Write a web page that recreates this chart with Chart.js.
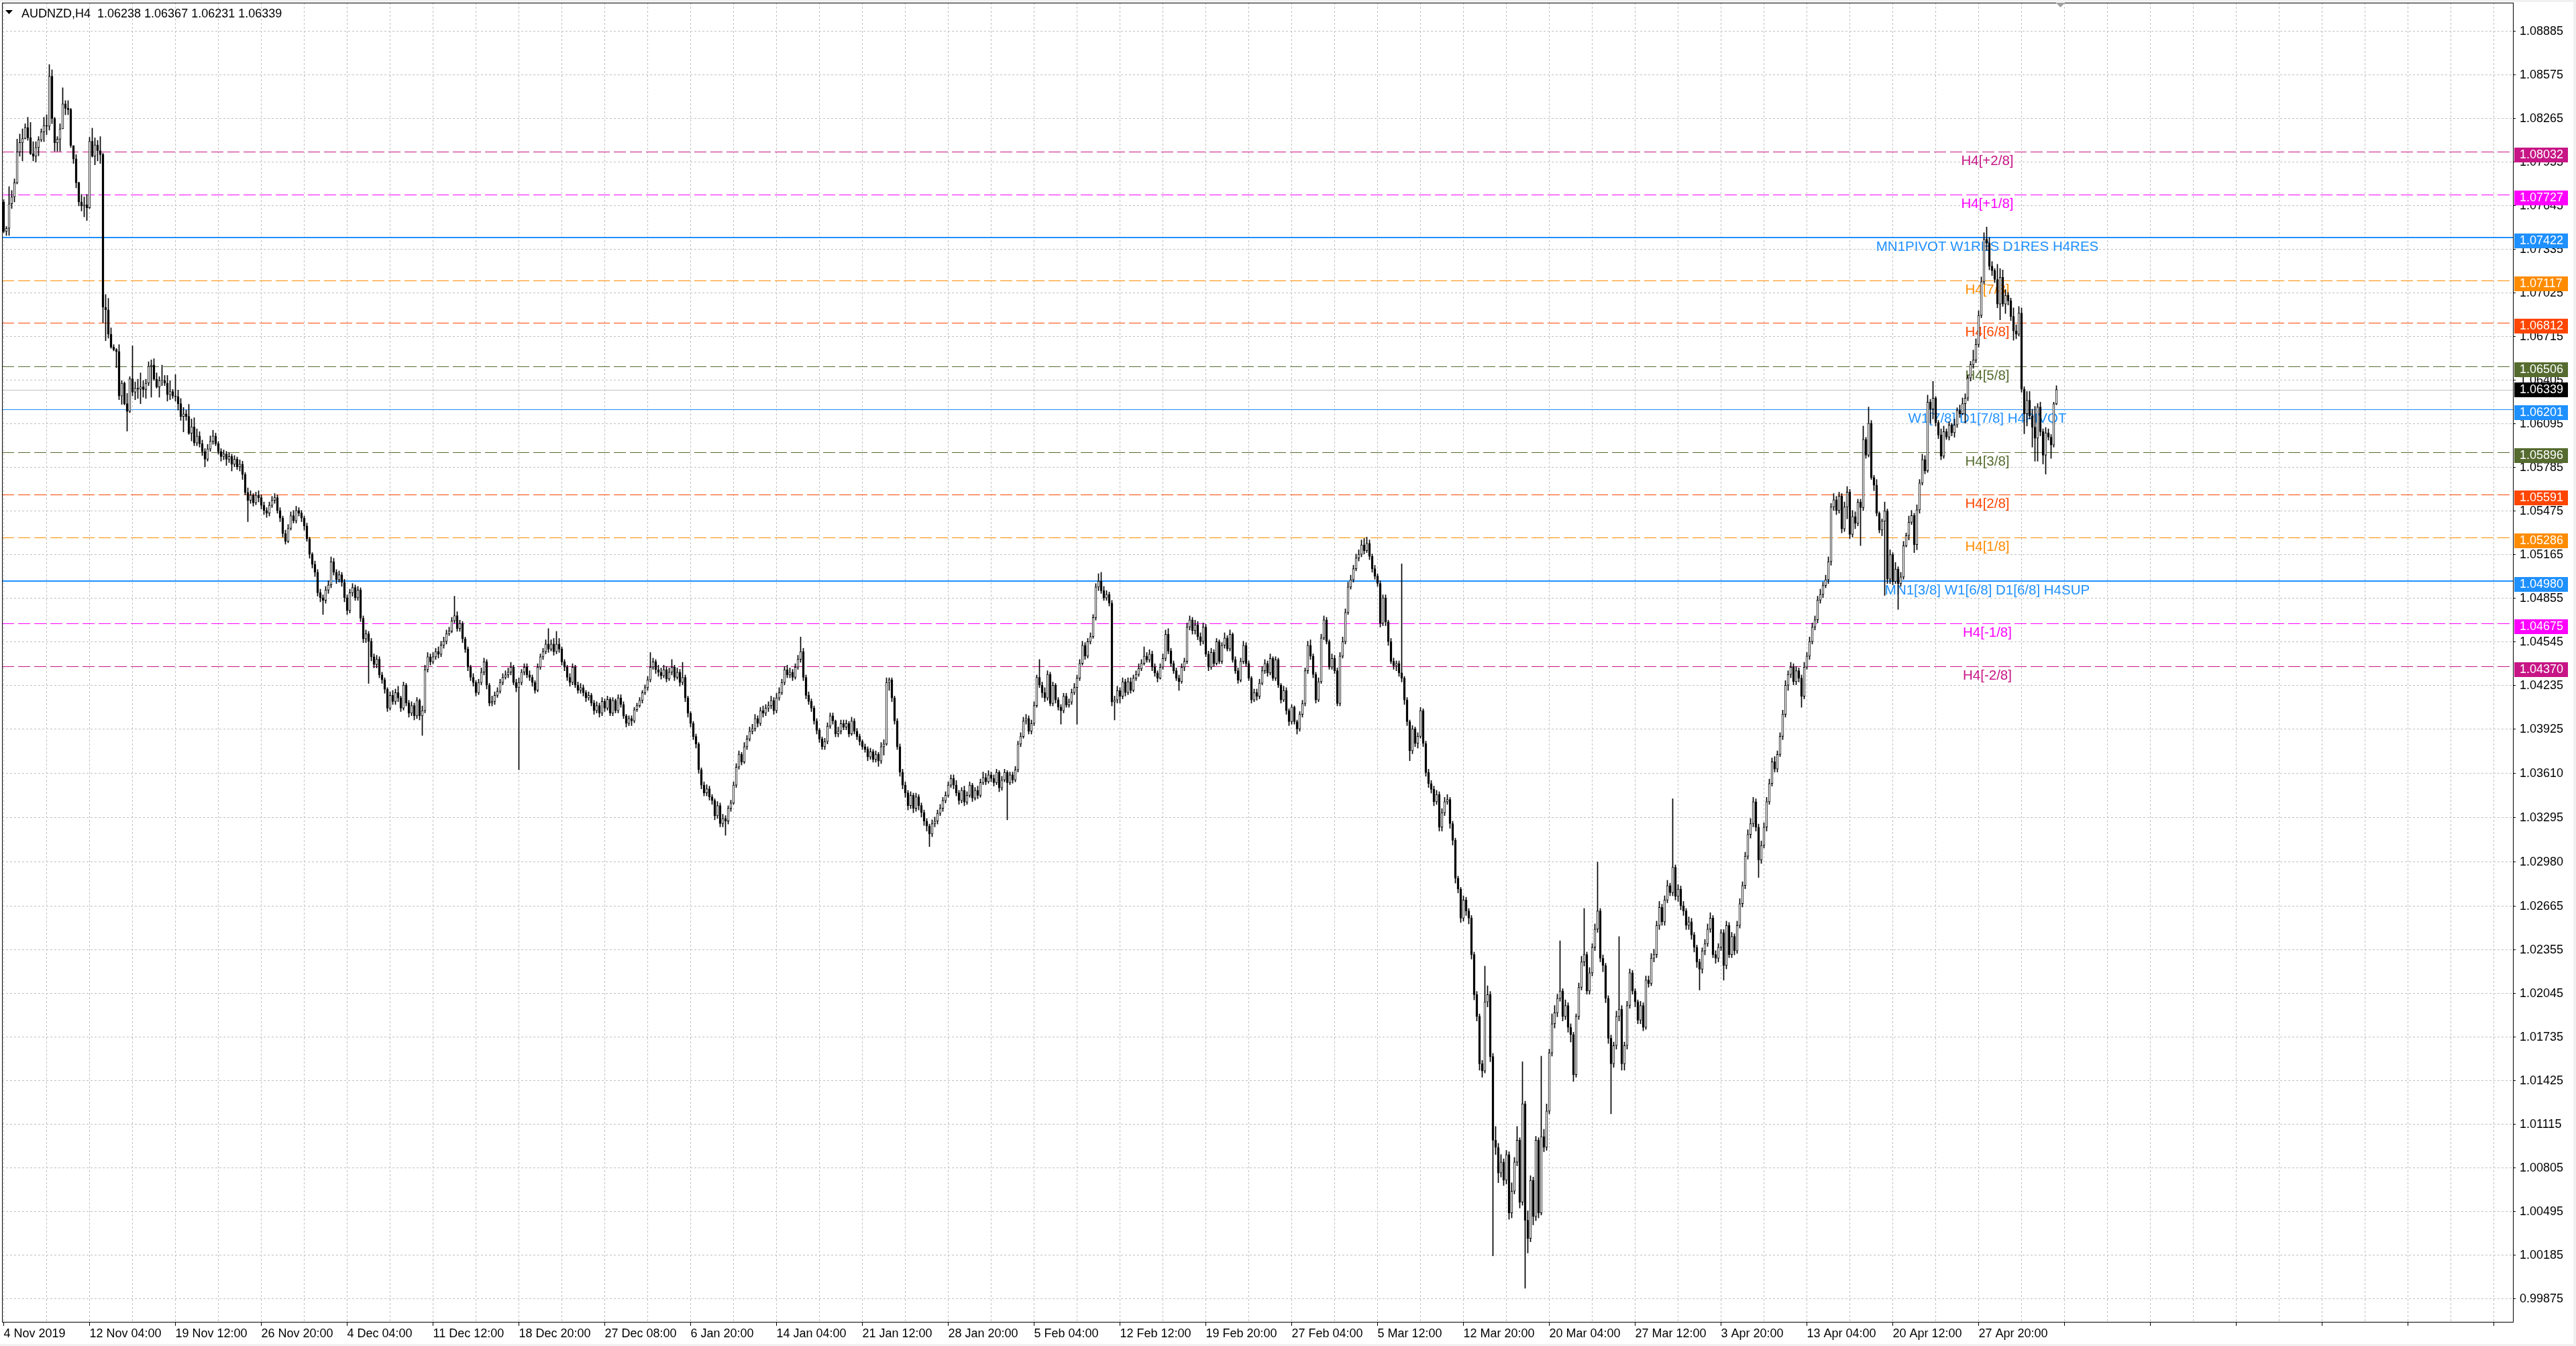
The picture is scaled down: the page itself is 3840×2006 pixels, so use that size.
<!DOCTYPE html>
<html>
<head>
<meta charset="utf-8">
<script src="https://cdn.jsdelivr.net/npm/chart.js@4.4.1/dist/chart.umd.min.js"></script>
<style>
  html, body { margin: 0; padding: 0; background: #f0f0f0; }
  canvas { display: block; }
</style>
</head>
<body>
<canvas id="chart" width="3840" height="2006"></canvas>
<script>
// AUDNZD H4 - prices stored as points above 1.00000 (7463 = 1.07463)
const symbolName = "AUDNZD,H4";

const timeLabels = ["4 Nov 2019", "12 Nov 04:00", "19 Nov 12:00", "26 Nov 20:00", "4 Dec 04:00",
  "11 Dec 12:00", "18 Dec 20:00", "27 Dec 08:00", "6 Jan 20:00", "14 Jan 04:00", "21 Jan 12:00",
  "28 Jan 20:00", "5 Feb 04:00", "12 Feb 12:00", "19 Feb 20:00", "27 Feb 04:00", "5 Mar 12:00",
  "12 Mar 20:00", "20 Mar 04:00", "27 Mar 12:00", "3 Apr 20:00", "13 Apr 04:00", "20 Apr 12:00",
  "27 Apr 20:00"];

const priceTicks = [1.08885, 1.08575, 1.08265, 1.07955, 1.07645, 1.07335, 1.07025, 1.06715, 1.06405,
  1.06095, 1.05785, 1.05475, 1.05165, 1.04855, 1.04545, 1.04235, 1.03925, 1.03610, 1.03295, 1.02980,
  1.02665, 1.02355, 1.02045, 1.01735, 1.01425, 1.01115, 1.00805, 1.00495, 1.00185, 0.99875];

const firstOpen = 7673;

const closes = [
  7463,7486,7660,7709,7810,8029,8096,8124,8202,8129, 8016,7998,8060,8115,8171,8217,8211,8567,8266,8093,
  8120,8193,8370,8339,8330,8074,7979,7810,7673,7645, 7654,7632,8105,7998,8078,8038,8010,6924,6906,6732,
  6641,6623,6610,6294,6385,6239,6184,6416,6321,6349, 6343,6358,6340,6385,6504,6513,6413,6358,6404,6404,
  6385,6303,6325,6294,6289,6239,6148,6166,6148,6029, 6075,5960,6009,5954,5899,5844,5917,5972,6009,5954,
  5899,5863,5881,5844,5863,5808,5844,5790,5808,5735, 5607,5552,5589,5534,5589,5571,5516,5479,5461,5516,
  5552,5571,5479,5425,5315,5260,5352,5443,5406,5479, 5461,5425,5370,5279,5169,5096,5041,4895,4859,4841,
  4914,4950,5114,5041,4987,5023,4968,4859,4768,4895, 4932,4859,4914,4713,4567,4603,4549,4439,4384,4421,
  4311,4275,4209,4074,4165,4122,4184,4147,4074,4238, 4111,4038,4092,4019,4129,4019,4056,4348,4439,4403,
  4439,4476,4457,4523,4549,4603,4622,4695,4731,4640, 4676,4567,4494,4366,4293,4257,4184,4257,4330,4403,
  4238,4111,4122,4165,4195,4257,4293,4311,4330,4366, 4257,4220,4257,4330,4366,4311,4293,4257,4202,4366,
  4439,4476,4530,4494,4530,4476,4530,4494,4403,4366, 4293,4257,4366,4238,4202,4220,4184,4147,4165,4111,
  4056,4092,4038,4122,4074,4136,4038,4129,4056,4147, 4100,4019,3965,4001,3983,4063,4092,4129,4184,4220,
  4275,4366,4403,4348,4330,4304,4348,4282,4330,4366, 4293,4330,4257,4293,4147,4038,3965,3873,3819,3636,
  3527,3472,3501,3443,3417,3308,3381,3253,3290,3271, 3362,3399,3527,3655,3746,3691,3800,3855,3910,3928,
  4001,3965,4056,4038,4074,4092,4129,4056,4147,4184, 4257,4348,4311,4330,4293,4366,4421,4476,4293,4165,
  4122,4074,3983,3917,3855,3800,3837,3946,4019,3983, 3892,3910,3965,3939,3965,3892,3983,3910,3873,3837,
  3800,3782,3727,3764,3709,3746,3698,3800,3819,4257, 4275,4147,3983,3800,3618,3527,3472,3381,3454,3362,
  3443,3381,3333,3271,3235,3180,3253,3271,3326,3362, 3417,3454,3527,3574,3527,3472,3417,3490,3406,3454,
  3527,3435,3490,3454,3545,3581,3552,3600,3574,3545, 3618,3508,3563,3618,3545,3600,3563,3636,3819,3873,
  3983,4001,3910,3965,4092,4293,4238,4184,4147,4314, 4107,4237,4133,4081,4056,4159,4097,4118,4185,4221,
  4288,4392,4521,4444,4547,4583,4718,4935,4977,4909, 4858,4883,4821,4118,4133,4200,4159,4262,4185,4262,
  4200,4288,4314,4356,4392,4444,4418,4459,4366,4325, 4288,4366,4428,4599,4480,4392,4340,4288,4262,4366,
  4407,4651,4702,4625,4666,4583,4547,4651,4459,4366, 4470,4392,4547,4407,4521,4573,4495,4599,4418,4340,
  4273,4407,4521,4392,4288,4133,4185,4159,4252,4340, 4392,4325,4428,4288,4418,4237,4133,4200,4056,3978,
  4081,3978,3926,4030,4107,4340,4521,4444,4314,4133, 4262,4573,4702,4547,4366,4428,4340,4107,4444,4547,
  4754,4935,4987,5065,5142,5168,5235,5194,5246,5153, 5065,5013,4961,4677,4858,4687,4547,4407,4376,4392,
  4325,4288,4133,3978,3771,3926,3823,3874,4056,3823, 3616,3538,3497,3409,3460,3228,3331,3409,3424,3253,
  3134,2865,2788,2581,2710,2632,2581,2322,2037,1882, 1546,1494,1986,2037,1597,1002,951,769,847,718,
  899,485,640,847,1002,562,1261,433,304,717, 459,1002,485,1028,951,1209,1623,1830,1908,2011,
  2063,1882,1960,1804,1753,1468,1882,2089,2270,2322, 2063,2192,2374,2503,2632,2296,2244,2011,1727,1546,
  1675,1882,1934,1546,1675,1960,2192,2063,1986,1856, 1960,1804,2141,2115,2296,2322,2529,2658,2555,2710,
  2813,2762,2943,2736,2788,2669,2632,2529,2555,2462, 2374,2270,2218,2348,2399,2503,2581,2322,2296,2374,
  2477,2244,2529,2322,2451,2348,2529,2684,2813,3021, 3176,3253,3409,3228,2995,3098,3228,3409,3538,3693,
  3641,3745,3874,4030,4237,4314,4366,4262,4340,4288, 4159,4366,4444,4547,4651,4702,4842,4883,4946,4987,
  5116,5505,5556,5479,5582,5349,5505,5611,5309,5436, 5388,5539,5500,5985,5873,6100,5714,5659,5460,5341,
  5404,5476,4991,5166,4975,5063,4959,5007,5229,5301, 5396,5444,5237,5484,5675,5842,5762,6250,6200,6279,
  6104,6016,5865,6040,6001,6088,6032,6088,6191,6167, 6239,6279,6422,6517,6549,6660,6867,7106,7408,7380,
  7217,7185,7122,6947,7137,6947,7010,6970,6859,6756, 6732,6883,6342,6167,6263,6152,6072,5993,6215,6040,
  5873,6032,6001,5945,6238,6339
];

const highs = [
  7690,7499,7782,7755,7837,8120,8156,8193,8229,8275, 8239,8102,8102,8138,8193,8275,8293,8650,8613,8275,
  8138,8229,8485,8394,8394,8339,8074,8010,7815,7727, 7709,7727,8133,8198,8129,8111,8138,8020,7015,6988,
  6778,6659,6632,6659,6403,6394,6312,6431,6650,6394, 6413,6458,6403,6413,6537,6550,6559,6458,6431,6513,
  6440,6440,6403,6340,6446,6336,6276,6212,6193,6234, 6130,6139,6060,6040,5980,5920,5950,6010,6050,6030,
  5970,5920,5910,5900,5890,5880,5870,5860,5840,5830, 5750,5640,5620,5600,5610,5620,5590,5540,5500,5540,
  5580,5600,5590,5500,5440,5340,5380,5470,5480,5510, 5500,5480,5440,5390,5290,5180,5120,5060,4920,4880,
  4940,4980,5150,5140,5060,5050,5040,4990,4880,4920, 4960,4950,4940,4930,4730,4630,4620,4570,4460,4450,
  4440,4330,4290,4220,4190,4200,4210,4230,4160,4260, 4250,4130,4120,4110,4150,4140,4090,4380,4470,4460,
  4470,4500,4510,4550,4580,4630,4650,4720,4870,4760, 4700,4690,4580,4510,4380,4320,4270,4280,4360,4430,
  4420,4250,4160,4190,4220,4280,4320,4340,4360,4400, 4380,4280,4290,4350,4390,4390,4340,4310,4270,4390,
  4460,4500,4560,4640,4560,4570,4620,4570,4510,4420, 4380,4320,4390,4380,4260,4250,4240,4200,4190,4180,
  4130,4120,4110,4150,4140,4160,4150,4150,4140,4170, 4170,4120,4030,4020,4020,4080,4110,4150,4200,4240,
  4300,4470,4430,4420,4380,4360,4380,4370,4360,4420, 4380,4360,4350,4400,4310,4160,4050,3980,3890,3830,
  3650,3550,3530,3520,3460,3430,3410,3400,3320,3310, 3380,3420,3550,3680,3770,3760,3830,3880,3940,3960,
  4030,4020,4080,4090,4100,4120,4160,4150,4180,4220, 4280,4370,4380,4360,4350,4390,4450,4580,4500,4310,
  4190,4140,4090,4000,3930,3870,3860,3970,4040,4040, 3990,3940,3990,3990,3990,3980,4010,4000,3930,3890,
  3850,3820,3800,3790,3780,3770,3760,3830,3850,4290, 4290,4290,4160,4000,3820,3640,3550,3490,3480,3470,
  3470,3460,3400,3350,3290,3250,3280,3300,3350,3390, 3440,3480,3550,3600,3600,3560,3490,3510,3520,3480,
  3550,3540,3510,3520,3570,3620,3610,3630,3620,3600, 3640,3630,3590,3640,3630,3620,3620,3660,3840,3900,
  4010,4030,4020,3990,4120,4310,4420,4260,4220,4340, 4330,4260,4250,4150,4100,4180,4180,4140,4210,4250,
  4310,4420,4550,4540,4570,4610,4740,4960,5030,5040, 4940,4910,4900,4840,4160,4230,4220,4290,4280,4290,
  4290,4310,4340,4390,4420,4510,4470,4490,4480,4390, 4340,4390,4460,4630,4640,4500,4410,4360,4310,4390,
  4430,4680,4730,4720,4700,4690,4610,4680,4670,4480, 4500,4490,4570,4560,4540,4610,4590,4630,4610,4440,
  4360,4430,4550,4540,4410,4300,4210,4210,4280,4370, 4420,4410,4460,4440,4440,4430,4250,4230,4220,4070,
  4100,4090,3990,4050,4130,4360,4550,4560,4460,4330, 4290,4600,4730,4720,4560,4460,4450,4360,4470,4580,
  4780,4970,5020,5090,5170,5200,5270,5280,5290,5270, 5170,5090,5030,4980,4880,4880,4700,4570,4430,4410,
  4410,5100,4300,4150,3990,3950,3940,3900,4080,4070, 3840,3640,3560,3520,3490,3480,3360,3440,3460,3440,
  3270,3150,2880,2800,2740,2730,2650,2600,2340,2060, 1900,1570,2240,2100,2060,1620,1100,980,900,870,
  930,920,700,880,1100,1020,1560,1280,500,750, 740,1030,1020,1600,1080,1260,1650,1900,1960,2040,
  2420,2080,2000,1980,1830,1770,1900,2120,2310,2650, 2340,2230,2400,2540,2980,2650,2320,2260,2030,1750,
  1700,1920,2450,1960,1700,1990,2220,2210,2080,2000, 1990,1980,2170,2170,2330,2360,2560,2700,2680,2740,
  2850,2830,3430,2960,2820,2810,2700,2650,2590,2580, 2480,2390,2290,2370,2430,2540,2620,2600,2350,2400,
  2500,2500,2560,2550,2480,2470,2560,2720,2840,3050, 3210,3290,3440,3430,3250,3130,3260,3440,3570,3720,
  3730,3770,3900,4060,4270,4340,4400,4390,4370,4360, 4310,4400,4470,4580,4680,4730,4870,4920,4970,5020,
  5150,5530,5600,5580,5610,5600,5540,5650,5630,5480, 5470,5560,5560,6080,6000,6215,6120,5730,5700,5470,
  5420,5540,5490,5200,5180,5110,5080,5040,5260,5320, 5440,5480,5460,5520,5700,5880,5870,6300,6270,6398,
  6290,6120,6060,6080,6060,6110,6100,6130,6210,6230, 6280,6310,6440,6540,6620,6700,6900,7140,7455,7495,
  7420,7250,7200,7230,7200,7190,7050,7030,6990,6920, 6800,6930,6920,6360,6326,6326,6200,6220,6240,6250,
  6060,6070,6060,6020,6250,6367
];

const lows = [
  7454,7435,7435,7627,7673,7801,7998,7965,8120,8111, 8010,7965,7956,8001,8102,8102,8151,8184,8230,8034,
  8034,8034,8193,8293,8293,8060,7947,7773,7645,7609, 7567,7541,7627,7992,7937,7965,7947,6814,6687,6705,
  6632,6614,6495,6267,6234,6230,6044,6175,6294,6267, 6276,6239,6285,6276,6367,6285,6404,6349,6285,6367,
  6367,6257,6267,6276,6257,6193,6120,6038,6120,6020, 5974,5940,5940,5930,5870,5790,5830,5900,5950,5940,
  5880,5830,5840,5800,5820,5760,5790,5770,5760,5700, 5590,5400,5530,5510,5520,5540,5490,5450,5430,5440,
  5500,5530,5460,5400,5290,5240,5250,5340,5390,5390, 5440,5400,5340,5260,5140,5070,5010,4870,4830,4740,
  4820,4890,4930,5020,4960,4970,4940,4830,4740,4750, 4870,4840,4840,4690,4540,4540,4250,4410,4360,4360,
  4290,4250,4180,4050,4060,4100,4100,4120,4050,4060, 4090,4010,4020,3990,4000,3990,3880,4040,4330,4380,
  4390,4420,4430,4440,4500,4530,4590,4610,4680,4620, 4620,4540,4470,4340,4270,4230,4160,4170,4240,4310,
  4210,4090,4090,4100,4150,4180,4240,4280,4290,4310, 4240,4190,3636,4240,4310,4290,4270,4230,4180,4190,
  4350,4420,4460,4470,4480,4450,4460,4470,4380,4340, 4270,4230,4240,4220,4180,4180,4160,4120,4130,4090,
  4030,4040,4010,4020,4050,4060,4020,4020,4040,4040, 4080,4000,3940,3950,3950,3970,4050,4080,4110,4170,
  4200,4260,4350,4320,4300,4280,4290,4260,4270,4310, 4270,4280,4230,4240,4120,4010,3940,3850,3790,3610,
  3500,3450,3450,3420,3390,3280,3290,3230,3230,3170, 3250,3340,3390,3510,3640,3670,3680,3780,3840,3890,
  3910,3940,3950,4010,4020,4050,4070,4030,4040,4130, 4170,4240,4290,4290,4270,4280,4350,4400,4270,4140,
  4100,4050,3960,3890,3830,3780,3780,3820,3930,3960, 3870,3870,3890,3920,3920,3870,3880,3890,3850,3810,
  3780,3760,3700,3710,3690,3690,3660,3680,3740,3810, 4200,4120,3960,3780,3590,3500,3440,3350,3360,3330,
  3340,3350,3300,3240,3200,3090,3160,3230,3250,3310, 3340,3400,3440,3510,3500,3450,3390,3400,3380,3390,
  3440,3410,3420,3430,3440,3530,3530,3540,3550,3520, 3530,3480,3490,3550,3280,3530,3540,3550,3620,3800,
  3860,3960,3890,3890,3950,4080,4220,4150,4120,4130, 4090,4090,4110,4060,3960,4040,4080,4080,4100,4170,
  3960,4270,4380,4420,4430,4530,4570,4700,4910,4890, 4840,4840,4800,4090,3990,4110,4110,4140,4160,4170,
  4180,4190,4270,4300,4340,4380,4400,4400,4340,4300, 4260,4280,4350,4410,4460,4370,4320,4270,4200,4250,
  4340,4390,4630,4600,4600,4560,4520,4530,4440,4340, 4350,4370,4380,4390,4390,4500,4480,4480,4400,4320,
  4250,4260,4390,4370,4270,4110,4120,4130,4140,4240, 4320,4300,4310,4270,4270,4220,4110,4120,4030,3950,
  3960,3960,3890,3910,4010,4090,4320,4420,4290,4110, 4120,4250,4560,4530,4350,4350,4320,4090,4090,4430,
  4530,4740,4920,4970,5050,5120,5150,5170,5180,5130, 5040,4990,4940,4650,4660,4660,4520,4390,4350,4340,
  4300,4260,4100,3950,3700,3750,3800,3790,3860,3800, 3590,3510,3470,3380,3390,3200,3200,3310,3390,3220,
  3100,2830,2760,2550,2560,2600,2540,2290,2000,1850, 1500,1450,1480,1950,1560,180,900,700,740,680,
  690,440,450,620,820,520,540,-50,200,280, 400,430,450,470,920,930,1190,1600,1800,1880,
  1990,1850,1860,1770,1700,1420,1450,1860,2070,2240, 2040,2040,2170,2350,2480,2270,2200,1980,1690,1190,
  1520,1650,1850,1500,1500,1650,1940,2040,1950,1830, 1830,1780,1790,2090,2100,2270,2300,2500,2530,2530,
  2690,2740,2740,2710,2700,2640,2600,2500,2500,2430, 2340,2230,2070,2190,2320,2380,2480,2300,2260,2270,
  2350,2140,2220,2300,2300,2320,2330,2510,2660,2790, 3000,3150,3230,3200,2870,2970,3080,3200,3390,3520,
  3620,3620,3730,3850,4010,4200,4290,4240,4240,4260, 4080,4140,4350,4420,4530,4630,4680,4820,4860,4930,
  4960,5090,5480,5450,5460,5320,5330,5420,5280,5290, 5350,5370,5230,5480,5850,5860,5700,5620,5440,5320,
  5300,4875,4960,4960,4950,4960,4776,4940,4990,5220, 5270,5380,5180,5200,5460,5660,5740,5750,6100,6130,
  6080,5990,5840,5850,5985,5980,6010,6000,6070,6140, 6160,6100,6260,6400,6490,6530,6640,6850,7090,7330,
  7190,7150,7100,6920,6835,6930,6880,6940,6830,6690, 6700,6720,6320,6025,6080,6130,5930,5830,5830,6010,
  5810,5738,5980,5850,5930,6231
];

// Murrey / pivot levels drawn by the indicator
const levelPrices = [1.08032, 1.07727, 1.07422, 1.07117, 1.06812, 1.06506, 1.06201, 1.05896,
  1.05591, 1.05286, 1.04980, 1.04675, 1.04370];
const levelNames = ["H4[+2/8]", "H4[+1/8]", "MN1PIVOT W1RES D1RES H4RES", "H4[7/8]", "H4[6/8]",
  "H4[5/8]", "W1[7/8] D1[7/8] H4PIVOT", "H4[3/8]", "H4[2/8]", "H4[1/8]",
  "MN1[3/8] W1[6/8] D1[6/8] H4SUP", "H4[-1/8]", "H4[-2/8]"];

// styles (kept apart from the data)
const VIOLET = "#c71585", MAGENTA = "#ff00ff", BLUE = "#1e90ff", ORANGE = "#ff8c00",
  RED = "#ff4500", OLIVE = "#556b2f";
const levelStyles = [
  { color: VIOLET, width: 1, dash: [18, 6] },
  { color: MAGENTA, width: 1, dash: [18, 6] },
  { color: BLUE, width: 2, dash: [] },
  { color: ORANGE, width: 1, dash: [18, 6] },
  { color: RED, width: 1, dash: [18, 6] },
  { color: OLIVE, width: 1, dash: [18, 6] },
  { color: BLUE, width: 1, dash: [] },
  { color: OLIVE, width: 1, dash: [18, 6] },
  { color: RED, width: 1, dash: [18, 6] },
  { color: ORANGE, width: 1, dash: [18, 6] },
  { color: BLUE, width: 2, dash: [] },
  { color: MAGENTA, width: 1, dash: [18, 6] },
  { color: VIOLET, width: 1, dash: [18, 6] }
];
const AXIS_FONT = '18px "Liberation Sans", Arial, sans-serif';
const LEVEL_FONT = '20.5px "Liberation Sans", Arial, sans-serif';
const X_MIN = -0.625, X_MAX = 935.375;     // 4 px per bar
const Y_MIN = 0.99706, Y_MAX = 1.09090;
const LABEL_BAR = 739.25;                  // where the level captions are centred

const P = v => 1 + v / 100000;
const opens = closes.map((c, i) => (i === 0 ? firstOpen : closes[i - 1]));
const last = closes.length - 1;

const bodyData = closes.map((c, i) => ({ x: i, y: [P(Math.min(opens[i], c)), P(Math.max(opens[i], c))] }));
const wickData = closes.map((c, i) => ({
  x: i,
  y: [P(Math.min(lows[i], opens[i], c)), P(Math.max(highs[i], opens[i], c))]
}));
const bodyFill = closes.map((c, i) => (c >= opens[i] ? "#ffffff" : "#000000"));

// horizontal line snapped to the pixel grid
function hLine(ctx, a, ys, price, color, width, dash) {
  const y = Math.round(ys.getPixelForValue(price)) + (width % 2 ? 0.5 : 0);
  ctx.setLineDash(dash);
  ctx.lineWidth = width;
  ctx.strokeStyle = color;
  ctx.beginPath();
  ctx.moveTo(a.left, y);
  ctx.lineTo(a.right, y);
  ctx.stroke();
}

const overlay = {
  id: "overlay",
  beforeDraw(chart) {
    const ctx = chart.ctx;
    ctx.save();
    ctx.fillStyle = "#f0f0f0";
    ctx.fillRect(0, 0, chart.width, chart.height);
    ctx.fillStyle = "#ffffff";
    ctx.fillRect(0, 3, chart.width - 4, chart.height - 6);
    ctx.restore();
  },
  beforeDatasetsDraw(chart) {
    // level lines and captions, candles are drawn over them
    const ctx = chart.ctx, a = chart.chartArea, xs = chart.scales.x, ys = chart.scales.y;
    ctx.save();
    ctx.beginPath();
    ctx.rect(a.left, a.top, a.right - a.left, a.bottom - a.top);
    ctx.clip();
    hLine(ctx, a, ys, P(closes[last]), "#c0c0c0", 1, []);
    levelPrices.forEach((p, k) => {
      const st = levelStyles[k];
      hLine(ctx, a, ys, p, st.color, st.width, st.dash);
    });
    ctx.setLineDash([]);
    const cx = xs.getPixelForValue(LABEL_BAR);
    ctx.font = LEVEL_FONT;
    ctx.textAlign = "center";
    ctx.textBaseline = "alphabetic";
    levelPrices.forEach((p, k) => {
      ctx.fillStyle = levelStyles[k].color;
      ctx.fillText(levelNames[k], cx, Math.round(ys.getPixelForValue(p)) + 20);
    });
    ctx.restore();
  },
  afterDraw(chart) {
    const ctx = chart.ctx, a = chart.chartArea, xs = chart.scales.x, ys = chart.scales.y;
    ctx.save();
    // frame
    ctx.strokeStyle = "#000000";
    ctx.lineWidth = 1;
    ctx.strokeRect(a.left + 0.5, a.top + 0.5, a.right - a.left - 1, a.bottom - a.top - 1);

    // price boxes on the right scale
    ctx.font = AXIS_FONT;
    ctx.textAlign = "left";
    ctx.textBaseline = "middle";
    levelPrices.forEach((p, k) => {
      const y = Math.round(ys.getPixelForValue(p));
      ctx.fillStyle = levelStyles[k].color;
      ctx.fillRect(a.right + 1, y - 6, 80, 22);
      ctx.fillStyle = "#ffffff";
      ctx.fillText(p.toFixed(5), a.right + 9, y + 5.5);
    });
    const yb = Math.round(ys.getPixelForValue(P(closes[last])));
    ctx.fillStyle = "#000000";
    ctx.fillRect(a.right + 1, yb - 11, 80, 22);
    ctx.fillStyle = "#ffffff";
    ctx.fillText(P(closes[last]).toFixed(5), a.right + 9, yb + 0.5);

    // header
    ctx.fillStyle = "#000000";
    ctx.beginPath();
    ctx.moveTo(8, 15); ctx.lineTo(19, 15); ctx.lineTo(13.5, 21); ctx.closePath();
    ctx.fill();
    ctx.textBaseline = "alphabetic";
    const hdr = symbolName + "  " + [opens[last], highs[last], lows[last], closes[last]]
      .map(v => P(v).toFixed(5)).join(" ");
    ctx.fillText(hdr, 32, 26);

    // chart shift marker
    const sx = xs.getPixelForValue(closes.length + 0.5);
    ctx.fillStyle = "#a0a0a0";
    ctx.beginPath();
    ctx.moveTo(sx - 7, a.top); ctx.lineTo(sx + 7, a.top); ctx.lineTo(sx, a.top + 7); ctx.closePath();
    ctx.fill();
    ctx.restore();
  }
};

new Chart(document.getElementById("chart").getContext("2d"), {
  type: "bar",
  data: {
    datasets: [
      {
        type: "bar", data: bodyData, backgroundColor: bodyFill, borderColor: "#000000",
        borderWidth: 1, borderSkipped: false, barThickness: 3, grouped: false,
        minBarLength: 1, order: 0
      },
      {
        type: "bar", data: wickData, backgroundColor: "#000000", borderWidth: 0,
        barThickness: 1, grouped: false, order: 1
      }
    ]
  },
  options: {
    responsive: false,
    devicePixelRatio: 1,
    animation: false,
    events: [],
    layout: { padding: { left: 3, top: 4, right: 0, bottom: 0 } },
    plugins: { legend: { display: false }, tooltip: { enabled: false } },
    scales: {
      x: {
        type: "linear",
        position: "bottom",
        min: X_MIN,
        max: X_MAX,
        offset: false,
        afterBuildTicks: s => {
          const t = [];
          for (let v = 0; v <= X_MAX; v += 16) t.push({ value: v });
          s.ticks = t;
        },
        afterFit: s => {
          s.height = 35;
          s.paddingLeft = 0;
          s.paddingRight = 0;
        },
        grid: {
          offset: false,
          color: "#c0c0c0",
          lineWidth: 1,
          tickLength: 5,
          tickColor: ctx => (ctx.tick && ctx.tick.value % 32 === 0 ? "#000000" : "rgba(0,0,0,0)")
        },
        border: { display: false, dash: [3, 3] },
        ticks: {
          autoSkip: false,
          maxRotation: 0,
          minRotation: 0,
          align: "start",
          padding: 1,
          color: "#000000",
          font: { family: '"Liberation Sans", Arial, sans-serif', size: 18 },
          callback: v => (v % 32 === 0 && timeLabels[v / 32] ? timeLabels[v / 32] : "")
        }
      },
      y: {
        type: "linear",
        position: "right",
        min: Y_MIN,
        max: Y_MAX,
        beginAtZero: false,
        afterBuildTicks: s => { s.ticks = priceTicks.map(v => ({ value: v })); },
        afterFit: s => {
          s.width = 93;
          s.paddingTop = 0;
          s.paddingBottom = 0;
        },
        grid: { color: "#c0c0c0", lineWidth: 1, tickLength: 3, tickColor: "#000000" },
        border: { display: false, dash: [3, 3] },
        ticks: {
          padding: 6,
          color: "#000000",
          font: { family: '"Liberation Sans", Arial, sans-serif', size: 18 },
          callback: v => v.toFixed(5)
        }
      }
    }
  },
  plugins: [overlay]
});
</script>
</body>
</html>
